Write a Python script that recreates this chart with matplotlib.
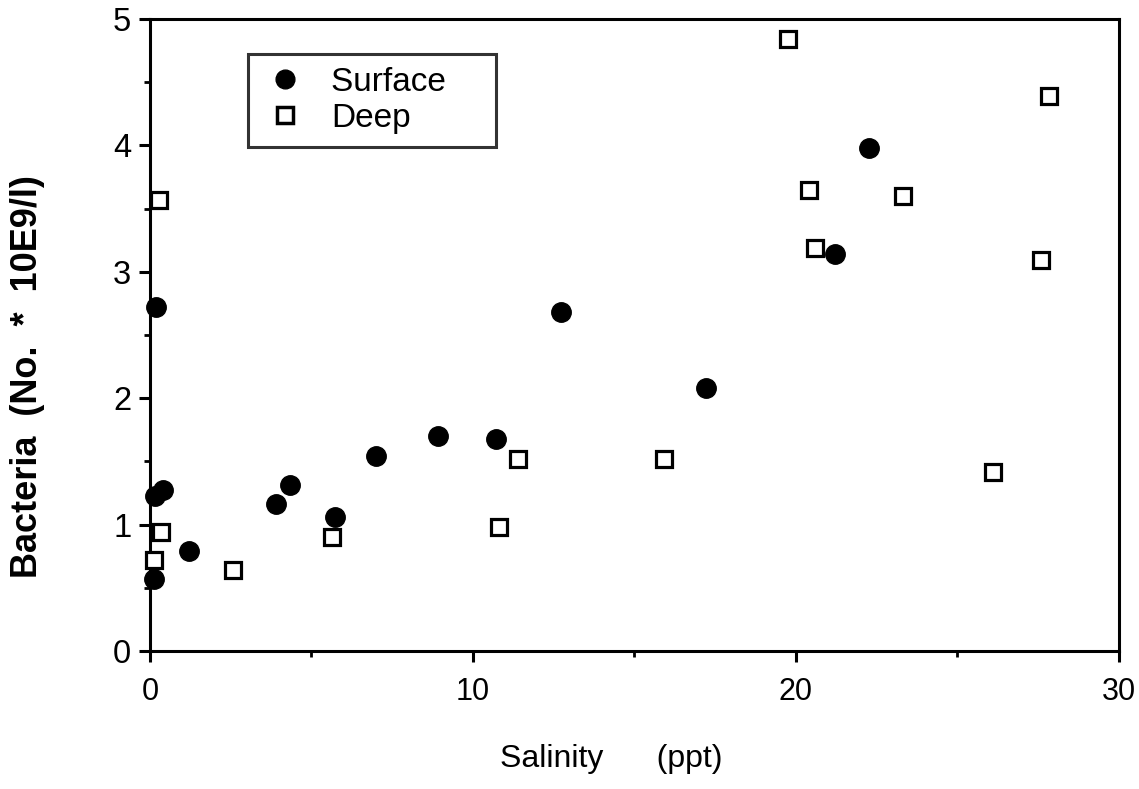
import matplotlib
matplotlib.use("Agg")
import matplotlib.pyplot as plt
from matplotlib.ticker import MultipleLocator

# Data
surface_x = [0.12, 0.15, 0.40, 0.20, 1.21, 3.90, 4.34, 5.73, 7.00, 8.93, 10.70, 12.74, 17.20, 21.20, 22.25]
surface_y = [0.57, 1.23, 1.27, 2.72, 0.79, 1.16, 1.31, 1.06, 1.54, 1.70, 1.68, 2.68, 2.08, 3.14, 3.98]
deep_x = [0.13, 0.34, 0.28, 2.57, 5.65, 10.80, 11.40, 15.90, 19.74, 20.39, 20.60, 23.30, 26.10, 27.60, 27.83]
deep_y = [0.72, 0.94, 3.57, 0.64, 0.90, 0.98, 1.52, 1.52, 4.84, 3.65, 3.19, 3.60, 1.42, 3.09, 4.39]
x_ticks = [0, 10, 20, 30]
y_ticks = [0, 1, 2, 3, 4, 5]
series_names = ['Surface', 'Deep']

plt.rcParams['font.family'] = ['Liberation Sans', 'DejaVu Sans']

fig = plt.figure(figsize=(11.39, 7.89), dpi=100)
ax = fig.add_axes([0.1317, 0.1749, 0.8507, 0.8010])

ax.plot(surface_x, surface_y, linestyle='none', marker='o', markersize=14,
        markerfacecolor='black', markeredgecolor='black', label=series_names[0],
        clip_on=False, zorder=3)
ax.plot(deep_x, deep_y, linestyle='none', marker='s', markersize=11,
        markerfacecolor='white', markeredgecolor='black', markeredgewidth=2.3,
        label=series_names[1], clip_on=False, zorder=4)

ax.set_xlim(0, 30)
ax.set_ylim(0, 5)
ax.set_xticks(x_ticks)
ax.set_yticks(y_ticks)
ax.xaxis.set_minor_locator(MultipleLocator(5))
ax.yaxis.set_minor_locator(MultipleLocator(0.5))

for s in ax.spines.values():
    s.set_linewidth(2.2)
    s.set_color('black')

ax.tick_params(axis='both', which='major', direction='out', length=8, width=2.2, color='black')
ax.tick_params(axis='both', which='minor', direction='out', length=4.5, width=2.0, color='black')
ax.tick_params(axis='y', which='major', labelsize=23.5, pad=5.5)
ax.tick_params(axis='x', which='major', labelsize=22, pad=11)

ax.set_xlabel('Salinity      (ppt)', fontsize=23)
ax.xaxis.set_label_coords(0.4757, -0.147)
ax.set_ylabel('Bacteria  (No.  *  10E9/l)', fontsize=26, fontweight='bold')
ax.yaxis.set_label_coords(-0.1084, 0.435)

leg = ax.legend([series_names[0] + '    ', series_names[1]],
                loc='upper left', bbox_to_anchor=(0.101, 0.945), fontsize=24, frameon=True,
                fancybox=False, edgecolor='black', borderpad=0.4, handletextpad=0.7,
                labelspacing=0.15, handlelength=1.4, borderaxespad=0)
leg.get_frame().set_linewidth(2.2)
for h in leg.legend_handles:
    if h.get_marker() == 'o':
        h.set_markersize(13.5)
    else:
        h.set_markersize(12)
        h.set_markeredgewidth(2.5)

fig.savefig('out.png', dpi=100, facecolor='white')
